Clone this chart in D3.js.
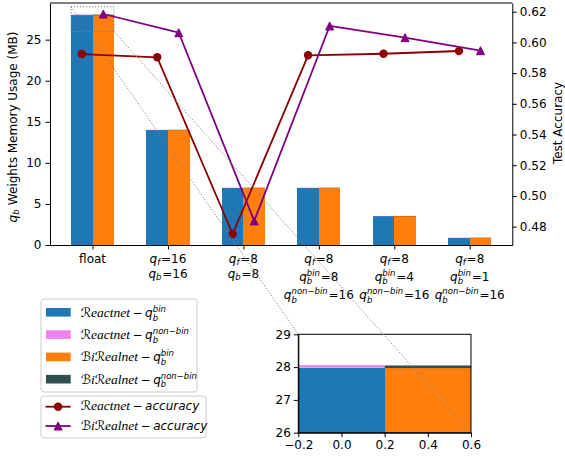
<!DOCTYPE html>
<html>
<head>
<meta charset="utf-8">
<script src="https://cdn.jsdelivr.net/npm/d3@7"></script>
<style>
  body { margin: 0; background: #fff; }
  text { font-family: "DejaVu Sans", sans-serif; fill: #000; }
</style>
</head>
<body>
<svg id="chart" width="565" height="459"></svg>
<script>
// ---- data -------------------------------------------------------------
const tickLabels = [
  ["float"],
  ["q_f=16", "q_b=16"],
  ["q_f=8", "q_b=8"],
  ["q_f=8", "q_b^{bin}=8", "q_b^{non-bin}=16"],
  ["q_f=8", "q_b^{bin}=4", "q_b^{non-bin}=16"],
  ["q_f=8", "q_b^{bin}=1", "q_b^{non-bin}=16"]
];
// memory usage of the weights (MB), split into binary / non-binary parts
const reactnetBin     = [27.98, 13.99, 6.99, 6.99, 3.50, 0.88];
const reactnetNonBin  = [0.08, 0.04, 0.04, 0.04, 0.04, 0.04];
const birealnetBin    = [27.97, 13.99, 6.99, 6.99, 3.50, 0.88];
const birealnetNonBin = [0.08, 0.04, 0.04, 0.04, 0.04, 0.04];
// test accuracy
const reactnetAcc  = [0.5924, 0.5903, 0.4752, 0.5916, 0.5926, 0.5944];
const birealnetAcc = [0.6185, 0.6063, 0.4837, 0.6107, 0.6031, 0.5946];

const memTicks = [0, 5, 10, 15, 20, 25];
const accTicks = [0.48, 0.50, 0.52, 0.54, 0.56, 0.58, 0.60, 0.62];
const insetXRange = [-0.2, 0.6];
const insetYRange = [26, 29];
const insetXTicks = [-0.2, 0.0, 0.2, 0.4, 0.6];
const insetYTicks = [26, 27, 28, 29];

// ---- style -------------------------------------------------------------
const C = {
  blue: "#1f77b4", pink: "violet", orange: "#ff7f0e", slate: "darkslategray",
  red: "darkred", purple: "purple", gray: "#808080"
};
const BASE = 12, SCRIPT = 8.5;
const SERIF = "'Liberation Serif', serif";

const svg = d3.select("#chart");

// ---- small math-text layout helper -----------------------------------
function drawMath(parent, runs) {
  const g = parent.append("g");
  let cx = 0;
  const put = (str, x, y, size, italic, family) => {
    const t = g.append("text").attr("x", x).attr("y", y)
      .style("font-size", size + "px")
      .style("font-style", italic ? "italic" : "normal")
      .text(str);
    if (family) t.style("font-family", family);
    return t.node().getComputedTextLength();
  };
  runs.forEach(r => {
    if (r.gap) { cx += r.gap; return; }
    if (r.sub !== undefined || r.sup !== undefined) {
      let w = 0;
      const subY = r.sup ? 3.8 : 2.2;
      if (r.sub) w = Math.max(w, put(r.sub, cx, subY, SCRIPT, true));
      if (r.sup) w = Math.max(w, put(r.sup.replace("-", "\u2212"), cx, -5.0, SCRIPT, true));
      cx += w + 0.8;
      return;
    }
    cx += put(r.t, cx, 0, r.size || BASE, r.it, r.fam);
  });
  return { g, width: cx };
}
function parseLabel(s) {
  const m = s.match(/^q_(\w)(?:\^\{([^}]*)\})?(.*)$/);
  if (!m) return [{ t: s }];
  return [{ t: "q", it: true }, { sub: m[1], sup: m[2] }, { t: m[3] }];
}

// ---- main axes -------------------------------------------------------------
const P = { left: 50, right: 512.3, top: 3, bottom: 245 };
const groupStep = 1.4, barW = 0.4;
const pos = tickLabels.map((_, i) => i * groupStep);

const xLo = d3.min(pos) - barW / 2, xHi = d3.max(pos) + barW + barW / 2;
const xPad = (xHi - xLo) * 0.05;
const x = d3.scaleLinear().domain([xLo - xPad, xHi + xPad]).range([P.left, P.right]);

const memMax = d3.max(reactnetBin.map((v, i) => v + reactnetNonBin[i])
  .concat(birealnetBin.map((v, i) => v + birealnetNonBin[i])));
const yMem = d3.scaleLinear().domain([0, memMax * 1.05]).range([P.bottom, P.top]);

const accAll = reactnetAcc.concat(birealnetAcc);
const accLo = d3.min(accAll), accHi = d3.max(accAll), accPad = (accHi - accLo) * 0.05;
const yAcc = d3.scaleLinear().domain([accLo - accPad, accHi + accPad]).range([P.bottom, P.top]);

svg.append("clipPath").attr("id", "mainClip")
  .append("rect").attr("x", P.left).attr("y", P.top)
  .attr("width", P.right - P.left).attr("height", P.bottom - P.top);

// stacked bars
const stacks = [
  { off: 0, bin: reactnetBin, non: reactnetNonBin, c1: C.blue, c2: C.pink },
  { off: barW, bin: birealnetBin, non: birealnetNonBin, c1: C.orange, c2: C.slate }
];
function drawBars(g, xs, ys) {
  stacks.forEach(s => {
    g.selectAll(null).data(pos).enter().append("rect")
      .attr("x", (p) => xs(p + s.off - barW / 2))
      .attr("width", (p) => xs(p + s.off + barW / 2) - xs(p + s.off - barW / 2))
      .attr("y", (p, i) => ys(s.bin[i]))
      .attr("height", (p, i) => ys(0) - ys(s.bin[i]))
      .attr("fill", s.c1)
      .attr("shape-rendering", "crispEdges");
    g.selectAll(null).data(pos).enter().append("rect")
      .attr("x", (p) => xs(p + s.off - barW / 2))
      .attr("width", (p) => xs(p + s.off + barW / 2) - xs(p + s.off - barW / 2))
      .attr("y", (p, i) => ys(s.bin[i] + s.non[i]))
      .attr("height", (p, i) => ys(s.bin[i]) - ys(s.bin[i] + s.non[i]))
      .attr("fill", s.c2);
  });
}
const barsG = svg.append("g").attr("clip-path", "url(#mainClip)");
drawBars(barsG, x, yMem);

// zoom region marker
const dotted = "1.2,1.8";
svg.append("rect")
  .attr("x", x(insetXRange[0])).attr("y", yMem(insetYRange[1]))
  .attr("width", x(insetXRange[1]) - x(insetXRange[0]))
  .attr("height", yMem(insetYRange[0]) - yMem(insetYRange[1]))
  .attr("fill", "none").attr("stroke", C.gray).attr("stroke-width", 1)
  .attr("stroke-dasharray", dotted);

// axes
const tickLen = 4.5;
const axL = svg.append("g").attr("transform", `translate(${P.left},0)`)
  .call(d3.axisLeft(yMem).tickValues(memTicks).tickSize(tickLen).tickSizeOuter(0).tickPadding(4));
const axR = svg.append("g").attr("transform", `translate(${P.right},0)`)
  .call(d3.axisRight(yAcc).tickValues(accTicks).tickFormat(d3.format(".2f"))
    .tickSize(tickLen).tickSizeOuter(0).tickPadding(3));
const axB = svg.append("g").attr("transform", `translate(0,${P.bottom})`)
  .call(d3.axisBottom(x).tickValues(pos.map(p => p + barW / 2)).tickFormat("")
    .tickSize(tickLen).tickSizeOuter(0));
svg.append("line").attr("x1", P.left).attr("x2", P.right).attr("y1", P.top).attr("y2", P.top)
  .attr("stroke", "#000");
[axL, axR, axB].forEach(a => {
  a.selectAll("text").style("font-size", BASE + "px").attr("font-family", null);
  a.select(".domain").attr("stroke", "#000");
  a.selectAll(".tick line").attr("stroke", "#000");
});

// multi-line category labels
const rowBase = (lines, k) => {
  if (k === 0) return 263.2;
  if (k === 1) return lines[1].includes("^") ? 280.6 : 277.7;
  return 299.2;
};
tickLabels.forEach((lines, i) => {
  const cx = x(pos[i] + barW / 2);
  lines.forEach((ln, k) => {
    const m = drawMath(svg, parseLabel(ln));
    m.g.attr("transform", `translate(${cx - m.width / 2},${rowBase(lines, k)})`);
  });
});

// axis titles
{
  const m = drawMath(svg, [{ t: "q", it: true }, { sub: "b" }, { gap: 3.5 }, { t: "Weights Memory Usage (MB)" }]);
  m.g.attr("transform", `translate(17,127) rotate(-90) translate(${-m.width / 2},0)`);
}
svg.append("text").attr("transform", "translate(562,123) rotate(-90)")
  .attr("text-anchor", "middle").style("font-size", BASE + "px").text("Test Accuracy");

// accuracy lines
const series = [
  { acc: reactnetAcc, off: 0, color: C.red, marker: "circle" },
  { acc: birealnetAcc, off: barW, color: C.purple, marker: "triangle" }
];
const triPath = (s) => `M0,${-s}L${s},${s}L${-s},${s}Z`;
function marker(g, type, color) {
  if (type === "circle") g.append("circle").attr("r", 4.2).attr("fill", color);
  else g.append("path").attr("d", triPath(4)).attr("fill", color)
    .attr("stroke", color).attr("stroke-width", 1).attr("stroke-linejoin", "miter");
}
series.forEach(s => {
  const line = d3.line().x((d, i) => x(pos[i] + s.off)).y(d => yAcc(d));
  svg.append("path").datum(s.acc).attr("d", line).attr("fill", "none")
    .attr("stroke", s.color).attr("stroke-width", 1.8).attr("stroke-linejoin", "round");
  s.acc.forEach((d, i) => {
    const g = svg.append("g").attr("transform", `translate(${x(pos[i] + s.off)},${yAcc(d)})`);
    marker(g, s.marker, s.color);
  });
});

// ---- legends -------------------------------------------------------------
const reactName = [{ t: "\u211B", size: 13 }, { t: "eactnet", it: true, fam: SERIF, size: 13.5 }];
const birealName = [{ t: "\u212C", size: 13 }, { t: "i", it: true, fam: SERIF, size: 13.5 },
  { t: "\u211B", size: 13 }, { t: "ealnet", it: true, fam: SERIF, size: 13.5 }];
const dash = [{ gap: 2.5 }, { t: "\u2212" }, { gap: 2.5 }];

const legendBars = [
  { name: reactName, sup: "bin", color: C.blue },
  { name: reactName, sup: "non-bin", color: C.pink },
  { name: birealName, sup: "bin", color: C.orange },
  { name: birealName, sup: "non-bin", color: C.slate }
];
const legendLines = [
  { name: reactName, color: C.red, marker: "circle" },
  { name: birealName, color: C.purple, marker: "triangle" }
];
function legendBox(x0, y0, w, h) {
  svg.append("rect").attr("x", x0).attr("y", y0).attr("width", w).attr("height", h)
    .attr("rx", 3).attr("fill", "#fff").attr("fill-opacity", 0.8)
    .attr("stroke", "#cccccc").attr("stroke-width", 1);
}
legendBox(41, 299, 156, 93);
legendBars.forEach((e, k) => {
  const cy = 312.3 + k * 22.3;
  svg.append("rect").attr("x", 46).attr("y", cy - 4.3).attr("width", 24.7).attr("height", 8.6)
    .attr("fill", e.color);
  const m = drawMath(svg, e.name.concat(dash, [{ t: "q", it: true }, { sub: "b", sup: e.sup }]));
  m.g.attr("transform", `translate(80.7,${cy + 4.4})`);
});
legendBox(41, 396, 165, 42);
legendLines.forEach((e, k) => {
  const cy = 406.7 + k * 19.3;
  svg.append("line").attr("x1", 45.5).attr("x2", 70.7).attr("y1", cy).attr("y2", cy)
    .attr("stroke", e.color).attr("stroke-width", 1.8);
  const g = svg.append("g").attr("transform", `translate(58.1,${cy})`);
  marker(g, e.marker, e.color);
  const m = drawMath(svg, e.name.concat(dash, [{ t: "accuracy", it: true }]));
  m.g.attr("transform", `translate(80.7,${cy + 3.6})`);
});

// ---- inset -------------------------------------------------------------
const I = { left: 298.3, right: 471, top: 334.3, bottom: 432.7 };
const xi = d3.scaleLinear().domain(insetXRange).range([I.left, I.right]);
const yi = d3.scaleLinear().domain(insetYRange).range([I.bottom, I.top]);
svg.append("rect").attr("x", I.left).attr("y", I.top)
  .attr("width", I.right - I.left).attr("height", I.bottom - I.top).attr("fill", "#fff");
svg.append("clipPath").attr("id", "insetClip").append("rect")
  .attr("x", I.left).attr("y", I.top).attr("width", I.right - I.left).attr("height", I.bottom - I.top);
const insetBars = svg.append("g").attr("clip-path", "url(#insetClip)");
drawBars(insetBars, xi, yi);
const iaL = svg.append("g").attr("transform", `translate(${I.left},0)`)
  .call(d3.axisLeft(yi).tickValues(insetYTicks).tickFormat(d3.format("d"))
    .tickSize(tickLen).tickSizeOuter(0).tickPadding(3));
const iaB = svg.append("g").attr("transform", `translate(0,${I.bottom})`)
  .call(d3.axisBottom(xi).tickValues(insetXTicks).tickFormat(d3.format(".1f"))
    .tickSize(tickLen).tickSizeOuter(0).tickPadding(3));
svg.append("rect").attr("x", I.left).attr("y", I.top)
  .attr("width", I.right - I.left).attr("height", I.bottom - I.top)
  .attr("fill", "none").attr("stroke", "#000");
[iaL, iaB].forEach(a => {
  a.selectAll("text").style("font-size", BASE + "px").attr("font-family", null);
  a.select(".domain").attr("stroke", "#000");
  a.selectAll(".tick line").attr("stroke", "#000");
});

// connectors from the zoom region to the inset corners
const connectors = [
  [[x(insetXRange[0]), yMem(insetYRange[1])], [I.left, I.top]],
  [[x(insetXRange[1]), yMem(insetYRange[0])], [I.right, I.bottom]]
];
connectors.forEach(([a, b]) => {
  svg.append("line").attr("x1", a[0]).attr("y1", a[1]).attr("x2", b[0]).attr("y2", b[1])
    .attr("stroke", C.gray).attr("stroke-width", 1).attr("stroke-dasharray", dotted);
});
</script>
</body>
</html>
